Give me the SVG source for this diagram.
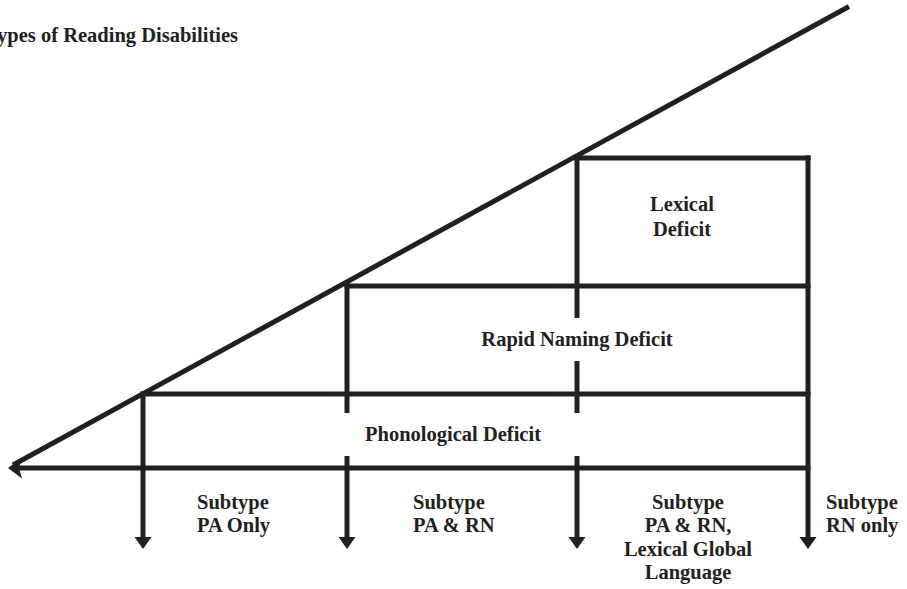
<svg xmlns="http://www.w3.org/2000/svg" width="907" height="589" viewBox="0 0 907 589">
  <style>
    .ln { stroke: #231f20; stroke-width: 5; fill: none; stroke-linecap: butt; }
    .head { fill: #231f20; }
    .lbl { font-family: "Liberation Serif", "Times New Roman", serif; font-weight: bold; font-size: 20.5px; fill: #231f20; }
    .mid { text-anchor: middle; }
  </style>
  <defs>
    <!-- downward arrowhead, tip at origin -->
    <polygon id="down" class="head" points="-8.5,-12 8.5,-12 0,0"/>
  </defs>
  <rect width="907" height="589" fill="#ffffff"/>

  <g id="connectors">
    <!-- diagonal meeting the base line at the left arrowhead -->
    <line class="ln" x1="849" y1="6.5" x2="13" y2="465"/>
    <!-- horizontal bands -->
    <line class="ln" x1="574.5" y1="158" x2="810.5" y2="158"/>
    <line class="ln" x1="344.5" y1="286" x2="810.5" y2="286"/>
    <line class="ln" x1="140.5" y1="394" x2="810.5" y2="394"/>
    <line class="ln" x1="16" y1="468" x2="810.5" y2="468"/>
    <polygon class="head" points="8,468 22,457.5 19,468 22,478.5"/>
    <!-- verticals -->
    <line class="ln" x1="143" y1="391.5" x2="143" y2="538"/>
    <line class="ln" x1="347" y1="283.5" x2="347" y2="413"/>
    <line class="ln" x1="347" y1="456" x2="347" y2="538"/>
    <line class="ln" x1="577" y1="155.5" x2="577" y2="318"/>
    <line class="ln" x1="577" y1="361" x2="577" y2="413"/>
    <line class="ln" x1="577" y1="456" x2="577" y2="538"/>
    <line class="ln" x1="808" y1="155.5" x2="808" y2="538"/>
    <use href="#down" x="143" y="549"/>
    <use href="#down" x="347" y="549"/>
    <use href="#down" x="577" y="549"/>
    <use href="#down" x="808" y="549"/>
  </g>

  <g id="title">
    <text class="lbl" x="238" y="42" text-anchor="end">Types of Reading Disabilities</text>
  </g>

  <g id="lexical-deficit">
    <text class="lbl mid" x="682" y="211">Lexical</text>
    <text class="lbl mid" x="682" y="236">Deficit</text>
  </g>

  <g id="rapid-naming-deficit">
    <text class="lbl mid" x="577" y="346">Rapid Naming Deficit</text>
  </g>

  <g id="phonological-deficit">
    <text class="lbl mid" x="453" y="441">Phonological Deficit</text>
  </g>

  <g id="subtype-pa-only">
    <text class="lbl" x="197" y="509">Subtype</text>
    <text class="lbl" x="197" y="532">PA Only</text>
  </g>

  <g id="subtype-pa-rn">
    <text class="lbl" x="413" y="509">Subtype</text>
    <text class="lbl" x="413" y="532">PA &amp; RN</text>
  </g>

  <g id="subtype-pa-rn-lexical">
    <text class="lbl mid" x="688" y="509">Subtype</text>
    <text class="lbl mid" x="688" y="532">PA &amp; RN,</text>
    <text class="lbl mid" x="688" y="556">Lexical Global</text>
    <text class="lbl mid" x="688" y="579">Language</text>
  </g>

  <g id="subtype-rn-only">
    <text class="lbl" x="826" y="509">Subtype</text>
    <text class="lbl" x="826" y="532">RN only</text>
  </g>
</svg>
